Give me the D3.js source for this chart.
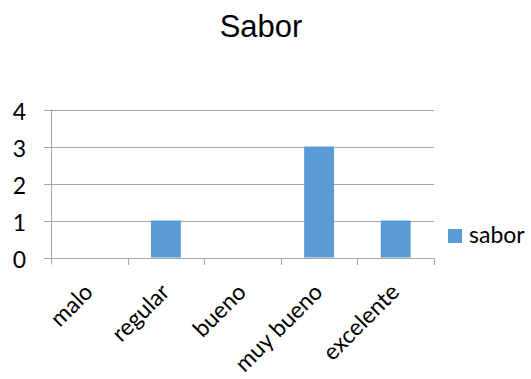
<!DOCTYPE html>
<html>
<head>
<meta charset="utf-8">
<script src="https://cdn.jsdelivr.net/npm/d3@7"></script>
<style>
  html, body { margin: 0; padding: 0; background: #fff; }
  svg { display: block; }
</style>
</head>
<body>
<svg id="chart" width="531" height="379"></svg>
<script>
// Rating categories and counts for "sabor"
const categories = ["malo", "regular", "bueno", "muy bueno", "excelente"];
const saborValues = [0, 1, 0, 3, 1];
const yTicks = [0, 1, 2, 3, 4];
const seriesName = "sabor";
const chartTitle = "Sabor";

const plot = { left: 51, right: 434, top: 109.5, bottom: 257.5 };
const barColor = "#5B9BD5";
const gridColor = "#A6A6A6";
const labelFont = "Lato, 'Open Sans', sans-serif";
const labelSize = 23;

const svg = d3.select("#chart");

const x = d3.scaleBand()
  .domain(categories)
  .range([plot.left, plot.right])
  .paddingInner(0.61)
  .paddingOuter(0.305);

// band without padding for category tick positions
const xCat = d3.scaleBand().domain(categories).range([plot.left, plot.right]);

const y = d3.scaleLinear().domain([0, 4]).range([plot.bottom, plot.top]);

// Title
svg.append("text")
  .attr("x", 261)
  .attr("y", 37)
  .attr("text-anchor", "middle")
  .attr("font-family", "'Liberation Sans', Arial, sans-serif")
  .attr("font-size", 31)
  .attr("fill", "#000")
  .text(chartTitle);

// Horizontal gridlines
svg.append("g")
  .selectAll("line")
  .data(yTicks)
  .join("line")
  .attr("x1", plot.left - 7)
  .attr("x2", plot.right)
  .attr("y1", d => Math.round(y(d)) + 0.5)
  .attr("y2", d => Math.round(y(d)) + 0.5)
  .attr("stroke", gridColor)
  .attr("stroke-width", 1);

// Vertical axis line
svg.append("line")
  .attr("x1", plot.left + 0.5).attr("x2", plot.left + 0.5)
  .attr("y1", plot.top).attr("y2", plot.bottom + 7)
  .attr("stroke", gridColor);

// Category tick marks at band boundaries
const tickXs = categories.map(c => xCat(c)).concat([plot.right]);
svg.append("g")
  .selectAll("line")
  .data(tickXs.slice(1))
  .join("line")
  .attr("x1", d => Math.round(d) + 0.5)
  .attr("x2", d => Math.round(d) + 0.5)
  .attr("y1", Math.round(plot.bottom))
  .attr("y2", Math.round(plot.bottom) + 7)
  .attr("stroke", gridColor);

// Bars
svg.append("g")
  .selectAll("rect")
  .data(categories.map((c, i) => ({ c, v: saborValues[i] })))
  .join("rect")
  .attr("x", d => x(d.c))
  .attr("width", x.bandwidth())
  .attr("y", d => y(d.v))
  .attr("height", d => y(0) - y(d.v))
  .attr("fill", barColor);

// Y tick labels
svg.append("g")
  .selectAll("text")
  .data(yTicks)
  .join("text")
  .attr("x", 26)
  .attr("y", d => y(d) + 2)
  .attr("dy", "0.35em")
  .attr("text-anchor", "end")
  .attr("font-family", labelFont)
  .attr("font-size", labelSize)
  .attr("fill", "#000")
  .text(d => d);

// X tick labels, rotated
svg.append("g")
  .selectAll("text")
  .data(categories)
  .join("text")
  .attr("text-anchor", "end")
  .attr("font-family", labelFont)
  .attr("font-size", labelSize)
  .attr("fill", "#000")
  .attr("transform", c => `translate(${xCat(c) + xCat.bandwidth() / 2 + 5},${plot.bottom + 36}) rotate(-45)`)
  .text(c => c);

// Legend
const legend = svg.append("g");
legend.append("rect")
  .attr("x", 448).attr("y", 229)
  .attr("width", 14).attr("height", 14)
  .attr("fill", barColor);
legend.append("text")
  .attr("x", 469).attr("y", 243)
  .attr("font-family", labelFont)
  .attr("font-size", labelSize)
  .attr("fill", "#000")
  .text(seriesName);
</script>
</body>
</html>
